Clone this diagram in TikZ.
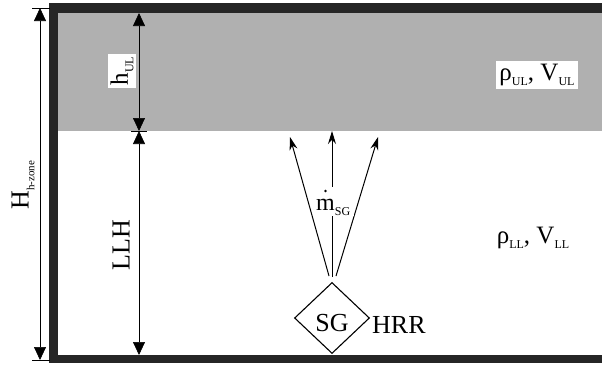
\documentclass[tikz,border=0pt]{standalone}
\usepackage{fontspec}
\setmainfont{Liberation Serif}
\usetikzlibrary{shapes.geometric,arrows.meta,calc}
\definecolor{wallc}{HTML}{262626}
\definecolor{ulayer}{HTML}{B0B0B0}
\newcommand\subsc[2][12]{\raisebox{-0.22em}{\fontsize{#1}{#1}\selectfont #2}}
\tikzset{
  wall/.style={fill=wallc},
  dimline/.style={{Triangle[length=13pt,width=12pt]}-{Triangle[length=13pt,width=12pt]}, line width=0.7pt},
  tick/.style={line width=0.7pt},
  flow/.style={-{Stealth[length=13pt,width=8pt]}, line width=1pt},
  lbl/.style={inner sep=0pt, font=\fontsize{26}{26}\selectfont},
  whitebox/.style={fill=white, inner sep=2pt}
}
\begin{document}
\begin{tikzpicture}[x=1pt,y=-1pt]
\useasboundingbox (0,0) rectangle (602,365);
% upper layer
\fill[ulayer] (58,13) rectangle (602,131);
% walls
\fill[wall] (49,3) rectangle (602,13);
\fill[wall] (49,3) rectangle (58,363);
\fill[wall] (49,355) rectangle (602,363);
% overall height dimension
\coordinate (Htop) at (40,8);
\coordinate (Hbot) at (40,360);
\draw[tick] ($(Htop)+(-8,0)$) -- ($(Htop)+(10,0)$);
\draw[tick] ($(Hbot)+(-8,0)$) -- ($(Hbot)+(10,0)$);
\draw[dimline] (Htop) -- (Hbot);
\node[lbl, rotate=90] (Hlab) at (23,185) {H\subsc[11]{h-zone}};
% upper layer / lower layer dimensions
\coordinate (ulT) at (139,13);
\coordinate (ulB) at (139,131);
\coordinate (llB) at (139,355);
\draw[dimline] (ulT) -- (ulB);
\draw[dimline] (ulB) -- (llB);
\draw[tick] ($(ulB)+(-8,0)$) -- ($(ulB)+(8,0)$);
\node[lbl, rotate=90, whitebox, inner sep=3pt, font=\fontsize{25}{25}\selectfont] (hul) at (122,71) {h\subsc{UL}};
\node[lbl, rotate=90] (llh) at (121,245) {LLH};
% source
\node[diamond, draw, line width=1.1pt, minimum width=75pt, minimum height=71pt, inner sep=0pt, font=\fontsize{26}{26}\selectfont] (sg) at (332,318) {\raisebox{-5pt}[\height][0pt]{SG}};
\node[lbl, anchor=west] (hrr) at (372,324.5) {HRR};
% flow arrows
\coordinate (s1) at (329,276);
\coordinate (s2) at (332,277);
\coordinate (s3) at (336,276);
\coordinate (e1) at (290,137);
\coordinate (e2) at (332,131);
\coordinate (e3) at (378,137);
\draw[flow] (s1) -- (e1);
\draw[flow] (s2) -- (e2);
\draw[flow] (s3) -- (e3);
\fill[white] (315,187) rectangle (354,216);
\node[inner sep=0pt, anchor=base west, font=\fontsize{24}{24}\selectfont] (mdot) at (316,210) {m\subsc{SG}};
\fill (325.5,191) circle (1.4pt);
% layer properties
\node[lbl, whitebox, inner sep=3pt, font=\fontsize{25}{25}\selectfont] (pul) at (537,75) {ρ\subsc{UL}, V\subsc{UL}};
\node[lbl, font=\fontsize{25}{25}\selectfont] (pll) at (533,238) {ρ\subsc{LL}, V\subsc{LL}};
\end{tikzpicture}
\end{document}
